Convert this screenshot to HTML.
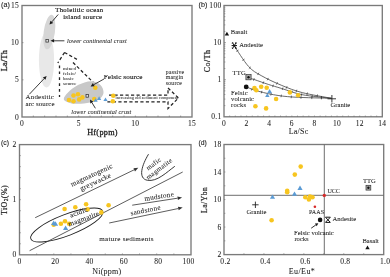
<!DOCTYPE html><html><head><meta charset="utf-8"><style>
html,body{margin:0;padding:0;background:#fff;}
svg{display:block;font-family:"Liberation Serif",serif;filter:blur(0.3px);}
</style></head><body>
<svg width="390" height="277" viewBox="0 0 390 277">
<path d="M64.5,52.5 L57.8,63 M64.5,52.5 L79,60.5 M73,62.5 L104,93 M109,95 L168,95 L168,88 L178.5,98 L168,108.5 L168,101.8 L105,101.8" fill="none" stroke="#222" stroke-width="1.25" stroke-dasharray="3.2,2.3"/>
<path d="M59.5,65.5 L59.5,97" fill="none" stroke="#222" stroke-width="1.3" stroke-dasharray="2.7,3.2"/>
<ellipse cx="46.5" cy="60" rx="7.6" ry="27.5" fill="#e8e8e8"/>
<ellipse cx="49.3" cy="32" rx="5.6" ry="17.5" fill="#d6d6d6" transform="rotate(8 49.3 32)"/>
<path d="M63.80,99.30 C64.13,101.05 67.63,102.25 70.00,103.00 C72.37,103.75 74.67,103.88 78.00,103.80 C81.33,103.72 86.50,103.22 90.00,102.50 C93.50,101.78 96.75,101.08 99.00,99.50 C101.25,97.92 103.25,95.42 103.50,93.00 C103.75,90.58 102.58,86.97 100.50,85.00 C98.42,83.03 94.75,81.20 91.00,81.20 C87.25,81.20 81.83,83.12 78.00,85.00 C74.17,86.88 70.37,90.12 68.00,92.50 C65.63,94.88 63.47,97.55 63.80,99.30Z" fill="#c8c8c8"/>
<rect x="22" y="5.5" width="170" height="111.5" fill="none" stroke="#7a7a7a" stroke-width="1.35"/>
<line x1="33.333333333333336" y1="117" x2="33.333333333333336" y2="115.5" stroke="#6f6f6f" stroke-width="0.6" />
<line x1="44.66666666666667" y1="117" x2="44.66666666666667" y2="115.5" stroke="#6f6f6f" stroke-width="0.6" />
<line x1="56.0" y1="117" x2="56.0" y2="115.5" stroke="#6f6f6f" stroke-width="0.6" />
<line x1="67.33333333333334" y1="117" x2="67.33333333333334" y2="115.5" stroke="#6f6f6f" stroke-width="0.6" />
<line x1="78.66666666666666" y1="117" x2="78.66666666666666" y2="115.5" stroke="#6f6f6f" stroke-width="0.6" />
<line x1="90.0" y1="117" x2="90.0" y2="115.5" stroke="#6f6f6f" stroke-width="0.6" />
<line x1="101.33333333333333" y1="117" x2="101.33333333333333" y2="115.5" stroke="#6f6f6f" stroke-width="0.6" />
<line x1="112.66666666666667" y1="117" x2="112.66666666666667" y2="115.5" stroke="#6f6f6f" stroke-width="0.6" />
<line x1="124.0" y1="117" x2="124.0" y2="115.5" stroke="#6f6f6f" stroke-width="0.6" />
<line x1="135.33333333333331" y1="117" x2="135.33333333333331" y2="115.5" stroke="#6f6f6f" stroke-width="0.6" />
<line x1="146.66666666666669" y1="117" x2="146.66666666666669" y2="115.5" stroke="#6f6f6f" stroke-width="0.6" />
<line x1="158.0" y1="117" x2="158.0" y2="115.5" stroke="#6f6f6f" stroke-width="0.6" />
<line x1="169.33333333333334" y1="117" x2="169.33333333333334" y2="115.5" stroke="#6f6f6f" stroke-width="0.6" />
<line x1="180.66666666666666" y1="117" x2="180.66666666666666" y2="115.5" stroke="#6f6f6f" stroke-width="0.6" />
<line x1="22" y1="79.83333333333334" x2="23.5" y2="79.83333333333334" stroke="#6f6f6f" stroke-width="0.6" />
<line x1="22" y1="42.66666666666667" x2="23.5" y2="42.66666666666667" stroke="#6f6f6f" stroke-width="0.6" />
<circle cx="73.5" cy="95.5" r="2.3" fill="#f7c51f"/>
<circle cx="78" cy="94.2" r="2.3" fill="#f7c51f"/>
<circle cx="79.2" cy="99.4" r="2.3" fill="#f7c51f"/>
<circle cx="82.4" cy="97.4" r="2.3" fill="#f7c51f"/>
<circle cx="69" cy="100" r="2.3" fill="#f7c51f"/>
<circle cx="73.5" cy="101.3" r="2.3" fill="#f7c51f"/>
<circle cx="95.3" cy="87.8" r="2.3" fill="#f7c51f"/>
<circle cx="94.3" cy="99.1" r="2.3" fill="#f7c51f"/>
<circle cx="113.3" cy="95.8" r="2.3" fill="#f7c51f"/>
<circle cx="112.8" cy="101.3" r="2.3" fill="#f7c51f"/>
<path d="M93.50,101.78L95.60,98.22L97.70,101.78Z" fill="#5b9bd5"/>
<path d="M97.00,99.88L99.10,96.31L101.20,99.88Z" fill="#5b9bd5"/>
<path d="M103.40,101.08L105.50,97.52L107.60,101.08Z" fill="#5b9bd5"/>
<rect x="45.9" y="39.5" width="2.6" height="2.6" fill="#ddd" stroke="#333" stroke-width="0.75"/>
<rect x="86" y="94.6" width="2.6" height="2.6" fill="#ddd" stroke="#333" stroke-width="0.75"/>
<line x1="58.2" y1="14.5" x2="51.84951401241648" y2="21.872403272941796" stroke="#1a1a1a" stroke-width="0.85" />
<path d="M49.50,24.60L50.49,20.70L53.21,23.05Z" fill="#1a1a1a"/>
<line x1="64.4" y1="40.8" x2="54.1" y2="40.8" stroke="#1a1a1a" stroke-width="0.85" />
<path d="M50.50,40.80L54.10,39.00L54.10,42.60Z" fill="#1a1a1a"/>
<line x1="29.3" y1="94.3" x2="44.126896266554496" y2="78.61605770647704" stroke="#1a1a1a" stroke-width="0.85" />
<path d="M46.60,76.00L45.43,79.85L42.82,77.38Z" fill="#1a1a1a"/>
<line x1="104" y1="79" x2="93.75139339030274" y2="84.659678276997" stroke="#1a1a1a" stroke-width="0.85" />
<path d="M90.60,86.40L92.88,83.08L94.62,86.24Z" fill="#1a1a1a"/>
<line x1="95.4" y1="108.3" x2="91.88285839146933" y2="102.56836182313519" stroke="#1a1a1a" stroke-width="0.85" />
<path d="M90.00,99.50L93.42,101.63L90.35,103.51Z" fill="#1a1a1a"/>
<text x="55.3" y="11.8" font-size="6.7" text-anchor="start" font-weight="normal" font-style="normal" fill="#222" stroke="#222" stroke-width="0.18" letter-spacing="0.3">Tholeiitic ocean</text>
<text x="63.2" y="18.8" font-size="6.7" text-anchor="start" font-weight="normal" font-style="normal" fill="#222" stroke="#222" stroke-width="0.18" letter-spacing="0.3">island source</text>
<text x="67" y="43.2" font-size="6.2" text-anchor="start" font-weight="normal" font-style="italic" fill="#222" stroke="#222" stroke-width="0.06" letter-spacing="0.1">lower continental crust</text>
<text x="25.5" y="98.8" font-size="6.9" text-anchor="start" font-weight="normal" font-style="normal" fill="#222" stroke="#222" stroke-width="0.06" letter-spacing="0.25">Andesitic</text>
<text x="25.5" y="106" font-size="6.9" text-anchor="start" font-weight="normal" font-style="normal" fill="#222" stroke="#222" stroke-width="0.06" letter-spacing="0.1">arc source</text>
<text x="103.8" y="79.3" font-size="7.1" text-anchor="start" font-weight="normal" font-style="normal" fill="#222" stroke="#222" stroke-width="0.15" letter-spacing="0.12">Felsic source</text>
<text x="63" y="70.2" font-size="4.9" text-anchor="start" font-weight="normal" font-style="normal" fill="#222" stroke="#222" stroke-width="0.06" letter-spacing="0.15">mixed</text>
<text x="63" y="75" font-size="4.9" text-anchor="start" font-weight="normal" font-style="normal" fill="#222" stroke="#222" stroke-width="0.06" letter-spacing="0.15">felsic/</text>
<text x="63" y="80.2" font-size="4.9" text-anchor="start" font-weight="normal" font-style="normal" fill="#222" stroke="#222" stroke-width="0.06" letter-spacing="0.15">basic</text>
<text x="63" y="85.3" font-size="4.9" text-anchor="start" font-weight="normal" font-style="normal" fill="#222" stroke="#222" stroke-width="0.06" letter-spacing="0.15">source</text>
<text x="165.8" y="74" font-size="5.7" text-anchor="start" font-weight="normal" font-style="normal" fill="#222" stroke="#222" stroke-width="0.06" letter-spacing="0.25">passive</text>
<text x="165.8" y="79.3" font-size="5.7" text-anchor="start" font-weight="normal" font-style="normal" fill="#222" stroke="#222" stroke-width="0.06" letter-spacing="0.25">margin</text>
<text x="165.8" y="84.6" font-size="5.7" text-anchor="start" font-weight="normal" font-style="normal" fill="#222" stroke="#222" stroke-width="0.06" letter-spacing="0.25">source</text>
<text x="115.5" y="99.4" font-size="4.1" text-anchor="start" font-weight="normal" font-style="normal" fill="#222" stroke="#222" stroke-width="0.06" letter-spacing="0.15">increasing old sediment component</text>
<text x="71.3" y="114.3" font-size="6.2" text-anchor="start" font-weight="normal" font-style="italic" fill="#222" stroke="#222" stroke-width="0.06" letter-spacing="0.12">lower continental crust</text>
<text x="19" y="119.5" font-size="7.5" text-anchor="end" font-weight="normal" font-style="normal" fill="#222" stroke="#222" stroke-width="0.06" letter-spacing="0.3">0</text>
<text x="22.0" y="125.5" font-size="7.5" text-anchor="middle" font-weight="normal" font-style="normal" fill="#222" stroke="#222" stroke-width="0.06" letter-spacing="0.3">0</text>
<text x="19" y="82.33333333333334" font-size="7.5" text-anchor="end" font-weight="normal" font-style="normal" fill="#222" stroke="#222" stroke-width="0.06" letter-spacing="0.3">5</text>
<text x="78.66666666666666" y="125.5" font-size="7.5" text-anchor="middle" font-weight="normal" font-style="normal" fill="#222" stroke="#222" stroke-width="0.06" letter-spacing="0.3">5</text>
<text x="19" y="45.16666666666667" font-size="7.5" text-anchor="end" font-weight="normal" font-style="normal" fill="#222" stroke="#222" stroke-width="0.06" letter-spacing="0.3">10</text>
<text x="135.33333333333331" y="125.5" font-size="7.5" text-anchor="middle" font-weight="normal" font-style="normal" fill="#222" stroke="#222" stroke-width="0.06" letter-spacing="0.3">10</text>
<text x="19" y="8.0" font-size="7.5" text-anchor="end" font-weight="normal" font-style="normal" fill="#222" stroke="#222" stroke-width="0.06" letter-spacing="0.3">15</text>
<text x="192.0" y="125.5" font-size="7.5" text-anchor="middle" font-weight="normal" font-style="normal" fill="#222" stroke="#222" stroke-width="0.06" letter-spacing="0.3">15</text>
<text x="1" y="6.6" font-size="7.2" text-anchor="start" font-weight="normal" font-style="normal" fill="#222" stroke="#222" stroke-width="0.1" font-family="Liberation Sans">(a)</text>
<text x="102.5" y="134.5" font-size="8.2" text-anchor="middle" font-weight="normal" font-style="normal" fill="#222" stroke="#222" stroke-width="0.3" letter-spacing="0.3">Hf(ppm)</text>
<text transform="translate(6.9,60.6) rotate(-90)" font-size="8.2" text-anchor="middle" fill="#222" stroke="#222" stroke-width="0.3" letter-spacing="0.3">La/Th</text>
<rect x="224" y="5.5" width="158.3" height="111.3" fill="none" stroke="#7a7a7a" stroke-width="1.35"/>
<line x1="229.65357142857144" y1="116.8" x2="229.65357142857144" y2="115.5" stroke="#6f6f6f" stroke-width="0.6" />
<line x1="235.30714285714285" y1="116.8" x2="235.30714285714285" y2="115.5" stroke="#6f6f6f" stroke-width="0.6" />
<line x1="240.9607142857143" y1="116.8" x2="240.9607142857143" y2="115.5" stroke="#6f6f6f" stroke-width="0.6" />
<line x1="246.61428571428573" y1="116.8" x2="246.61428571428573" y2="115.5" stroke="#6f6f6f" stroke-width="0.6" />
<line x1="252.26785714285714" y1="116.8" x2="252.26785714285714" y2="115.5" stroke="#6f6f6f" stroke-width="0.6" />
<line x1="257.9214285714286" y1="116.8" x2="257.9214285714286" y2="115.5" stroke="#6f6f6f" stroke-width="0.6" />
<line x1="263.575" y1="116.8" x2="263.575" y2="115.5" stroke="#6f6f6f" stroke-width="0.6" />
<line x1="269.22857142857146" y1="116.8" x2="269.22857142857146" y2="115.5" stroke="#6f6f6f" stroke-width="0.6" />
<line x1="274.88214285714287" y1="116.8" x2="274.88214285714287" y2="115.5" stroke="#6f6f6f" stroke-width="0.6" />
<line x1="280.5357142857143" y1="116.8" x2="280.5357142857143" y2="115.5" stroke="#6f6f6f" stroke-width="0.6" />
<line x1="286.18928571428575" y1="116.8" x2="286.18928571428575" y2="115.5" stroke="#6f6f6f" stroke-width="0.6" />
<line x1="291.84285714285716" y1="116.8" x2="291.84285714285716" y2="115.5" stroke="#6f6f6f" stroke-width="0.6" />
<line x1="297.49642857142857" y1="116.8" x2="297.49642857142857" y2="115.5" stroke="#6f6f6f" stroke-width="0.6" />
<line x1="303.15" y1="116.8" x2="303.15" y2="115.5" stroke="#6f6f6f" stroke-width="0.6" />
<line x1="308.80357142857144" y1="116.8" x2="308.80357142857144" y2="115.5" stroke="#6f6f6f" stroke-width="0.6" />
<line x1="314.45714285714286" y1="116.8" x2="314.45714285714286" y2="115.5" stroke="#6f6f6f" stroke-width="0.6" />
<line x1="320.11071428571427" y1="116.8" x2="320.11071428571427" y2="115.5" stroke="#6f6f6f" stroke-width="0.6" />
<line x1="325.76428571428573" y1="116.8" x2="325.76428571428573" y2="115.5" stroke="#6f6f6f" stroke-width="0.6" />
<line x1="331.41785714285714" y1="116.8" x2="331.41785714285714" y2="115.5" stroke="#6f6f6f" stroke-width="0.6" />
<line x1="337.07142857142856" y1="116.8" x2="337.07142857142856" y2="115.5" stroke="#6f6f6f" stroke-width="0.6" />
<line x1="342.725" y1="116.8" x2="342.725" y2="115.5" stroke="#6f6f6f" stroke-width="0.6" />
<line x1="348.37857142857143" y1="116.8" x2="348.37857142857143" y2="115.5" stroke="#6f6f6f" stroke-width="0.6" />
<line x1="354.03214285714284" y1="116.8" x2="354.03214285714284" y2="115.5" stroke="#6f6f6f" stroke-width="0.6" />
<line x1="359.6857142857143" y1="116.8" x2="359.6857142857143" y2="115.5" stroke="#6f6f6f" stroke-width="0.6" />
<line x1="365.3392857142857" y1="116.8" x2="365.3392857142857" y2="115.5" stroke="#6f6f6f" stroke-width="0.6" />
<line x1="370.99285714285713" y1="116.8" x2="370.99285714285713" y2="115.5" stroke="#6f6f6f" stroke-width="0.6" />
<line x1="376.6464285714286" y1="116.8" x2="376.6464285714286" y2="115.5" stroke="#6f6f6f" stroke-width="0.6" />
<line x1="224" y1="105.6317871608663" x2="225.4" y2="105.6317871608663" stroke="#6f6f6f" stroke-width="0.6" />
<line x1="224" y1="99.09880144990052" x2="225.4" y2="99.09880144990052" stroke="#6f6f6f" stroke-width="0.6" />
<line x1="224" y1="94.4635743217326" x2="225.4" y2="94.4635743217326" stroke="#6f6f6f" stroke-width="0.6" />
<line x1="224" y1="90.8682128391337" x2="225.4" y2="90.8682128391337" stroke="#6f6f6f" stroke-width="0.6" />
<line x1="224" y1="87.93058861076682" x2="225.4" y2="87.93058861076682" stroke="#6f6f6f" stroke-width="0.6" />
<line x1="224" y1="85.44686271547107" x2="225.4" y2="85.44686271547107" stroke="#6f6f6f" stroke-width="0.6" />
<line x1="224" y1="83.29536148259888" x2="225.4" y2="83.29536148259888" stroke="#6f6f6f" stroke-width="0.6" />
<line x1="224" y1="81.39760289980104" x2="225.4" y2="81.39760289980104" stroke="#6f6f6f" stroke-width="0.6" />
<line x1="224" y1="68.53178716086629" x2="225.4" y2="68.53178716086629" stroke="#6f6f6f" stroke-width="0.6" />
<line x1="224" y1="61.99880144990052" x2="225.4" y2="61.99880144990052" stroke="#6f6f6f" stroke-width="0.6" />
<line x1="224" y1="57.36357432173259" x2="225.4" y2="57.36357432173259" stroke="#6f6f6f" stroke-width="0.6" />
<line x1="224" y1="53.7682128391337" x2="225.4" y2="53.7682128391337" stroke="#6f6f6f" stroke-width="0.6" />
<line x1="224" y1="50.830588610766824" x2="225.4" y2="50.830588610766824" stroke="#6f6f6f" stroke-width="0.6" />
<line x1="224" y1="48.346862715471076" x2="225.4" y2="48.346862715471076" stroke="#6f6f6f" stroke-width="0.6" />
<line x1="224" y1="46.1953614825989" x2="225.4" y2="46.1953614825989" stroke="#6f6f6f" stroke-width="0.6" />
<line x1="224" y1="44.29760289980105" x2="225.4" y2="44.29760289980105" stroke="#6f6f6f" stroke-width="0.6" />
<line x1="224" y1="79.69999999999999" x2="226" y2="79.69999999999999" stroke="#6f6f6f" stroke-width="0.6" />
<line x1="224" y1="31.431787160866293" x2="225.4" y2="31.431787160866293" stroke="#6f6f6f" stroke-width="0.6" />
<line x1="224" y1="24.898801449900517" x2="225.4" y2="24.898801449900517" stroke="#6f6f6f" stroke-width="0.6" />
<line x1="224" y1="20.26357432173259" x2="225.4" y2="20.26357432173259" stroke="#6f6f6f" stroke-width="0.6" />
<line x1="224" y1="16.6682128391337" x2="225.4" y2="16.6682128391337" stroke="#6f6f6f" stroke-width="0.6" />
<line x1="224" y1="13.730588610766802" x2="225.4" y2="13.730588610766802" stroke="#6f6f6f" stroke-width="0.6" />
<line x1="224" y1="11.246862715471067" x2="225.4" y2="11.246862715471067" stroke="#6f6f6f" stroke-width="0.6" />
<line x1="224" y1="9.09536148259889" x2="225.4" y2="9.09536148259889" stroke="#6f6f6f" stroke-width="0.6" />
<line x1="224" y1="7.197602899801041" x2="225.4" y2="7.197602899801041" stroke="#6f6f6f" stroke-width="0.6" />
<line x1="224" y1="42.599999999999994" x2="226" y2="42.599999999999994" stroke="#6f6f6f" stroke-width="0.6" />
<path d="M234.10,45.70 C236.50,49.15 243.98,61.42 248.50,66.40 C253.02,71.38 255.67,72.43 261.20,75.60 C266.73,78.77 274.87,82.57 281.70,85.40 C288.53,88.23 293.90,90.45 302.20,92.60 C310.50,94.75 326.62,97.35 331.50,98.30" fill="none" stroke="#444" stroke-width="0.8"/>
<path d="M249.00,78.00 C250.00,78.30 251.78,78.73 255.00,79.80 C258.22,80.87 263.85,82.95 268.30,84.40 C272.75,85.85 276.05,86.78 281.70,88.50 C287.35,90.22 293.90,93.07 302.20,94.70 C310.50,96.33 326.62,97.70 331.50,98.30" fill="none" stroke="#444" stroke-width="0.8"/>
<path d="M246.20,86.70 C247.67,87.30 250.45,88.97 255.00,90.30 C259.55,91.63 267.00,93.57 273.50,94.70 C280.00,95.83 284.33,96.50 294.00,97.10 C303.67,97.70 325.25,98.10 331.50,98.30" fill="none" stroke="#444" stroke-width="0.8"/>
<line x1="238.50617084764409" y1="50.043924119801915" x2="236.32412915235577" y2="51.45767588019808" stroke="#333" stroke-width="0.7" />
<line x1="244.50023487278858" y1="59.044404037883936" x2="242.36482293971144" y2="60.527649087116075" stroke="#333" stroke-width="0.7" />
<line x1="250.7352448200336" y1="66.87623281872776" x2="248.8722551799664" y2="68.68986718127225" stroke="#333" stroke-width="0.7" />
<line x1="258.82469216644216" y1="72.77218785731263" x2="257.5513078335578" y2="75.03901214268735" stroke="#333" stroke-width="0.7" />
<line x1="268.37828920760813" y1="77.92570768549892" x2="267.2182857923918" y2="80.25259231450106" stroke="#333" stroke-width="0.7" />
<line x1="277.460893174647" y1="82.17025972451036" x2="276.4080787003529" y2="84.54756527548965" stroke="#333" stroke-width="0.7" />
<line x1="287.1043951962971" y1="86.212087850693" x2="286.13310480370285" y2="88.62384964930703" stroke="#333" stroke-width="0.7" />
<line x1="296.8465032574308" y1="89.72636496235485" x2="296.0659967425691" y2="92.20644753764513" stroke="#333" stroke-width="0.7" />
<line x1="307.4489730314031" y1="92.48834791802086" x2="306.8981472810969" y2="95.02933020697911" stroke="#333" stroke-width="0.7" />
<line x1="317.51303751348746" y1="94.46493100368023" x2="317.0405265490126" y2="97.02163462131976" stroke="#333" stroke-width="0.7" />
<line x1="254.25382877754066" y1="78.18990616804943" x2="253.46550715995932" y2="80.66751570695057" stroke="#333" stroke-width="0.7" />
<line x1="263.77645928511856" y1="81.48848794364204" x2="262.9174907148814" y2="83.94249955635797" stroke="#333" stroke-width="0.7" />
<line x1="273.3857600979426" y1="84.63864367407459" x2="272.6255680270574" y2="87.12502820092541" stroke="#333" stroke-width="0.7" />
<line x1="282.94431267489045" y1="87.52557158526126" x2="282.16439982510957" y2="90.00584091473873" stroke="#333" stroke-width="0.7" />
<line x1="292.3866181816001" y1="90.73502682331241" x2="291.5747193183998" y2="93.20501067668758" stroke="#333" stroke-width="0.7" />
<line x1="301.84875430776606" y1="93.30317712128048" x2="301.312781629734" y2="95.84733381621952" stroke="#333" stroke-width="0.7" />
<line x1="312.2769589632769" y1="94.90090701649098" x2="311.9539519742232" y2="97.4807648585091" stroke="#333" stroke-width="0.7" />
<line x1="321.60319022096144" y1="95.95113238891106" x2="321.33120977903866" y2="98.53686761108897" stroke="#333" stroke-width="0.7" />
<line x1="252.38029558455545" y1="88.04675974769697" x2="251.4431419154445" y2="90.47199025230304" stroke="#333" stroke-width="0.7" />
<line x1="261.92722889690566" y1="90.83881480928233" x2="261.2839711030943" y2="93.35798519071764" stroke="#333" stroke-width="0.7" />
<line x1="271.27844798950474" y1="92.96508286008121" x2="270.7725285729952" y2="95.51538588991879" stroke="#333" stroke-width="0.7" />
<line x1="281.36476906799305" y1="94.63474415299993" x2="281.0135903070069" y2="97.21091834700007" stroke="#333" stroke-width="0.7" />
<line x1="291.3464038215389" y1="95.62099594621164" x2="291.1585961784611" y2="98.21420405378835" stroke="#333" stroke-width="0.7" />
<line x1="301.06375769589766" y1="96.13703073904142" x2="300.96024230410245" y2="98.73496926095865" stroke="#333" stroke-width="0.7" />
<line x1="311.8433426895555" y1="96.48903017999191" x2="311.76909481044464" y2="99.08796982000811" stroke="#333" stroke-width="0.7" />
<line x1="321.5152035501988" y1="96.74202538701611" x2="321.4506792623012" y2="99.34122461298385" stroke="#333" stroke-width="0.7" />
<circle cx="254.5" cy="88.1" r="2.3" fill="#f7c51f"/>
<circle cx="256.3" cy="90.3" r="2.3" fill="#f7c51f"/>
<circle cx="261.2" cy="86.7" r="2.3" fill="#f7c51f"/>
<circle cx="266.7" cy="87.7" r="2.3" fill="#f7c51f"/>
<circle cx="276.1" cy="99" r="2.3" fill="#f7c51f"/>
<circle cx="255.4" cy="106.2" r="2.3" fill="#f7c51f"/>
<circle cx="266.1" cy="108.4" r="2.3" fill="#f7c51f"/>
<circle cx="289.9" cy="92.4" r="2.3" fill="#f7c51f"/>
<circle cx="298.1" cy="95.3" r="2.3" fill="#f7c51f"/>
<path d="M267.10,93.33L269.60,89.08L272.10,93.33Z" fill="#5b9bd5"/>
<path d="M265.10,97.07L267.30,93.33L269.50,97.07Z" fill="#5b9bd5"/>
<path d="M224.70,35.47L226.90,31.73L229.10,35.47Z" fill="#111"/>
<path d="M232.6,42.8 L236,48.4 M236,42.8 L232.6,48.4 M231.6,45.6 L237,45.6 M231.8,43.2 L233.2,42.6 M235.4,42.6 L236.8,43.2 M231.8,48 L233.2,48.6 M235.4,48.6 L236.8,48" stroke="#111" stroke-width="1"/>
<rect x="245.9" y="74.6" width="5.2" height="5.2" fill="#aaa" stroke="#333" stroke-width="0.7"/>
<circle cx="248.5" cy="77.2" r="1.2" fill="#111"/>
<circle cx="246.2" cy="86.9" r="2.4" fill="#111"/>
<path d="M327.5,98.8 L336,98.8 M331.9,95 L331.9,102.5" stroke="#222" stroke-width="0.9"/>
<text x="230.8" y="33.5" font-size="6.6" text-anchor="start" font-weight="normal" font-style="normal" fill="#222" stroke="#222" stroke-width="0.06" >Basalt</text>
<text x="239.2" y="47.3" font-size="6.7" text-anchor="start" font-weight="normal" font-style="normal" fill="#222" stroke="#222" stroke-width="0.06" >Andesite</text>
<text x="232.6" y="75" font-size="6.6" text-anchor="start" font-weight="normal" font-style="normal" fill="#222" stroke="#222" stroke-width="0.06" letter-spacing="0.2">TTG</text>
<text x="231" y="95" font-size="6.6" text-anchor="start" font-weight="normal" font-style="normal" fill="#222" stroke="#222" stroke-width="0.06" letter-spacing="0.2">Felsic</text>
<text x="231" y="101.3" font-size="6.6" text-anchor="start" font-weight="normal" font-style="normal" fill="#222" stroke="#222" stroke-width="0.06" letter-spacing="0.1">volcanic</text>
<text x="231" y="107.3" font-size="6.6" text-anchor="start" font-weight="normal" font-style="normal" fill="#222" stroke="#222" stroke-width="0.06" letter-spacing="0.2">rocks</text>
<text x="330.5" y="106.5" font-size="6.6" text-anchor="start" font-weight="normal" font-style="normal" fill="#222" stroke="#222" stroke-width="0.06" >Granite</text>
<text x="221.5" y="119.3" font-size="7.5" text-anchor="end" font-weight="normal" font-style="normal" fill="#222" stroke="#222" stroke-width="0.06" letter-spacing="0.3">0.1</text>
<text x="221.5" y="82.19999999999999" font-size="7.5" text-anchor="end" font-weight="normal" font-style="normal" fill="#222" stroke="#222" stroke-width="0.06" letter-spacing="0.3">1</text>
<text x="221.5" y="45.099999999999994" font-size="7.5" text-anchor="end" font-weight="normal" font-style="normal" fill="#222" stroke="#222" stroke-width="0.06" letter-spacing="0.3">10</text>
<text x="221.5" y="8.0" font-size="7.5" text-anchor="end" font-weight="normal" font-style="normal" fill="#222" stroke="#222" stroke-width="0.06" letter-spacing="0.3">100</text>
<text x="224.0" y="125.5" font-size="7.5" text-anchor="middle" font-weight="normal" font-style="normal" fill="#222" stroke="#222" stroke-width="0.06" letter-spacing="0.3">0</text>
<text x="246.61428571428573" y="125.5" font-size="7.5" text-anchor="middle" font-weight="normal" font-style="normal" fill="#222" stroke="#222" stroke-width="0.06" letter-spacing="0.3">2</text>
<text x="269.22857142857146" y="125.5" font-size="7.5" text-anchor="middle" font-weight="normal" font-style="normal" fill="#222" stroke="#222" stroke-width="0.06" letter-spacing="0.3">4</text>
<text x="291.84285714285716" y="125.5" font-size="7.5" text-anchor="middle" font-weight="normal" font-style="normal" fill="#222" stroke="#222" stroke-width="0.06" letter-spacing="0.3">6</text>
<text x="314.45714285714286" y="125.5" font-size="7.5" text-anchor="middle" font-weight="normal" font-style="normal" fill="#222" stroke="#222" stroke-width="0.06" letter-spacing="0.3">8</text>
<text x="337.07142857142856" y="125.5" font-size="7.5" text-anchor="middle" font-weight="normal" font-style="normal" fill="#222" stroke="#222" stroke-width="0.06" letter-spacing="0.3">10</text>
<text x="359.6857142857143" y="125.5" font-size="7.5" text-anchor="middle" font-weight="normal" font-style="normal" fill="#222" stroke="#222" stroke-width="0.06" letter-spacing="0.3">12</text>
<text x="382.3" y="125.5" font-size="7.5" text-anchor="middle" font-weight="normal" font-style="normal" fill="#222" stroke="#222" stroke-width="0.06" letter-spacing="0.3">14</text>
<text x="198.5" y="6.6" font-size="7.2" text-anchor="start" font-weight="normal" font-style="normal" fill="#222" stroke="#222" stroke-width="0.1" font-family="Liberation Sans">(b)</text>
<text x="298.6" y="134.3" font-size="8" text-anchor="middle" font-weight="normal" font-style="normal" fill="#222" stroke="#222" stroke-width="0.06" letter-spacing="0.25">La/Sc</text>
<text transform="translate(210,60.9) rotate(-90)" font-size="8" letter-spacing="0.5" text-anchor="middle" fill="#222" stroke="#222" stroke-width="0.2">Co/Th</text>
<rect x="19.5" y="144.6" width="171.5" height="110.20000000000002" fill="none" stroke="#7a7a7a" stroke-width="1.35"/>
<line x1="36.65" y1="254.8" x2="36.65" y2="253.4" stroke="#6f6f6f" stroke-width="0.6" />
<line x1="53.8" y1="254.8" x2="53.8" y2="253.4" stroke="#6f6f6f" stroke-width="0.6" />
<line x1="70.95" y1="254.8" x2="70.95" y2="253.4" stroke="#6f6f6f" stroke-width="0.6" />
<line x1="88.1" y1="254.8" x2="88.1" y2="253.4" stroke="#6f6f6f" stroke-width="0.6" />
<line x1="105.25" y1="254.8" x2="105.25" y2="253.4" stroke="#6f6f6f" stroke-width="0.6" />
<line x1="122.4" y1="254.8" x2="122.4" y2="253.4" stroke="#6f6f6f" stroke-width="0.6" />
<line x1="139.55" y1="254.8" x2="139.55" y2="253.4" stroke="#6f6f6f" stroke-width="0.6" />
<line x1="156.7" y1="254.8" x2="156.7" y2="253.4" stroke="#6f6f6f" stroke-width="0.6" />
<line x1="173.85" y1="254.8" x2="173.85" y2="253.4" stroke="#6f6f6f" stroke-width="0.6" />
<line x1="19.5" y1="243.78" x2="20.9" y2="243.78" stroke="#6f6f6f" stroke-width="0.6" />
<line x1="19.5" y1="232.76000000000002" x2="20.9" y2="232.76000000000002" stroke="#6f6f6f" stroke-width="0.6" />
<line x1="19.5" y1="221.74" x2="20.9" y2="221.74" stroke="#6f6f6f" stroke-width="0.6" />
<line x1="19.5" y1="210.72" x2="20.9" y2="210.72" stroke="#6f6f6f" stroke-width="0.6" />
<line x1="19.5" y1="199.7" x2="20.9" y2="199.7" stroke="#6f6f6f" stroke-width="0.6" />
<line x1="19.5" y1="188.68" x2="20.9" y2="188.68" stroke="#6f6f6f" stroke-width="0.6" />
<line x1="19.5" y1="177.66" x2="20.9" y2="177.66" stroke="#6f6f6f" stroke-width="0.6" />
<line x1="19.5" y1="166.64" x2="20.9" y2="166.64" stroke="#6f6f6f" stroke-width="0.6" />
<line x1="19.5" y1="155.62" x2="20.9" y2="155.62" stroke="#6f6f6f" stroke-width="0.6" />
<ellipse cx="66.8" cy="225" rx="38.5" ry="10.5" fill="none" stroke="#222" stroke-width="0.9" transform="rotate(-21 66.8 225)"/>
<line x1="35.2" y1="217.7" x2="134.2494821446325" y2="169.76043492708865" stroke="#333" stroke-width="0.8" />
<path d="M138.30,167.80L135.03,171.38L133.47,168.14Z" fill="#333"/>
<line x1="29.6" y1="250.7" x2="182.7" y2="172" stroke="#333" stroke-width="0.8" />
<line x1="132.2" y1="205.2" x2="177.65263692021077" y2="198.1862664471819" stroke="#333" stroke-width="0.8" />
<path d="M182.10,197.50L177.93,199.97L177.38,196.41Z" fill="#333"/>
<line x1="109.2" y1="223" x2="178.29563789004345" y2="208.5228187278004" stroke="#333" stroke-width="0.8" />
<path d="M182.70,207.60L178.66,210.28L177.93,206.76Z" fill="#333"/>
<path d="M148.5,154.2 C142,165 137.5,178.5 147.5,180.3 C157,182 167,172 174.8,166.3" fill="none" stroke="#222" stroke-width="0.9"/>
<circle cx="64.6" cy="209" r="2.3" fill="#f7c51f"/>
<circle cx="75.3" cy="207.3" r="2.3" fill="#f7c51f"/>
<circle cx="86.1" cy="204.2" r="2.3" fill="#f7c51f"/>
<circle cx="87.6" cy="209.4" r="2.3" fill="#f7c51f"/>
<circle cx="101.3" cy="212.4" r="2.3" fill="#f7c51f"/>
<circle cx="60.9" cy="223.7" r="2.3" fill="#f7c51f"/>
<circle cx="65" cy="221.3" r="2.3" fill="#f7c51f"/>
<circle cx="69.1" cy="223.7" r="2.3" fill="#f7c51f"/>
<circle cx="53.7" cy="224.7" r="2.3" fill="#f7c51f"/>
<circle cx="108.6" cy="205.2" r="2.3" fill="#f7c51f"/>
<path d="M51.10,224.91L53.70,220.49L56.30,224.91Z" fill="#5b9bd5"/>
<path d="M52.90,225.71L55.50,221.29L58.10,225.71Z" fill="#5b9bd5"/>
<path d="M63.00,230.01L65.60,225.59L68.20,230.01Z" fill="#5b9bd5"/>
<text x="0" y="0" font-size="7.1" text-anchor="middle" font-weight="normal" font-style="normal" fill="#222" stroke="#222" stroke-width="0.06" transform="translate(92.5,177.2) rotate(-25)" letter-spacing="0.3">magmatogenic</text>
<text x="0" y="0" font-size="7.1" text-anchor="middle" font-weight="normal" font-style="normal" fill="#222" stroke="#222" stroke-width="0.06" transform="translate(96.5,184) rotate(-25)" letter-spacing="0.3">greywacke</text>
<text x="0" y="0" font-size="7.1" text-anchor="middle" font-weight="normal" font-style="normal" fill="#222" stroke="#222" stroke-width="0.06" transform="translate(79.5,214.5) rotate(-20)" letter-spacing="0.3">acidic</text>
<text x="0" y="0" font-size="7.1" text-anchor="middle" font-weight="normal" font-style="normal" fill="#222" stroke="#222" stroke-width="0.06" transform="translate(84.5,220.8) rotate(-20)" letter-spacing="0.3">magmatite</text>
<text x="0" y="0" font-size="6.7" text-anchor="middle" font-weight="normal" font-style="normal" fill="#222" stroke="#222" stroke-width="0.06" transform="translate(155,165.5) rotate(-37)" letter-spacing="0.3">mafic</text>
<text x="0" y="0" font-size="6.7" text-anchor="middle" font-weight="normal" font-style="normal" fill="#222" stroke="#222" stroke-width="0.06" transform="translate(160.5,170.5) rotate(-37)" letter-spacing="0.3">magmatite</text>
<text x="0" y="0" font-size="7.1" text-anchor="middle" font-weight="normal" font-style="normal" fill="#222" stroke="#222" stroke-width="0.06" transform="translate(159.5,198.6) rotate(-9)" letter-spacing="0.3">mudstone</text>
<text x="0" y="0" font-size="7.1" text-anchor="middle" font-weight="normal" font-style="normal" fill="#222" stroke="#222" stroke-width="0.06" transform="translate(146,212.5) rotate(-11)" letter-spacing="0.3">sandstone</text>
<text x="126.5" y="241.2" font-size="7.1" text-anchor="middle" font-weight="normal" font-style="normal" fill="#222" stroke="#222" stroke-width="0.06" letter-spacing="0.3">mature sediments</text>
<text x="16.5" y="257.3" font-size="7.5" text-anchor="end" font-weight="normal" font-style="normal" fill="#222" stroke="#222" stroke-width="0.06" letter-spacing="0.3">0</text>
<text x="16.5" y="202.2" font-size="7.5" text-anchor="end" font-weight="normal" font-style="normal" fill="#222" stroke="#222" stroke-width="0.06" letter-spacing="0.3">1</text>
<text x="16.5" y="147.1" font-size="7.5" text-anchor="end" font-weight="normal" font-style="normal" fill="#222" stroke="#222" stroke-width="0.06" letter-spacing="0.3">2</text>
<text x="19.5" y="263.5" font-size="7.5" text-anchor="middle" font-weight="normal" font-style="normal" fill="#222" stroke="#222" stroke-width="0.06" letter-spacing="0.3">0</text>
<text x="55.3" y="263.5" font-size="7.5" text-anchor="middle" font-weight="normal" font-style="normal" fill="#222" stroke="#222" stroke-width="0.06" letter-spacing="0.3">20</text>
<text x="89.6" y="263.5" font-size="7.5" text-anchor="middle" font-weight="normal" font-style="normal" fill="#222" stroke="#222" stroke-width="0.06" letter-spacing="0.3">40</text>
<text x="123.9" y="263.5" font-size="7.5" text-anchor="middle" font-weight="normal" font-style="normal" fill="#222" stroke="#222" stroke-width="0.06" letter-spacing="0.3">60</text>
<text x="158.2" y="263.5" font-size="7.5" text-anchor="middle" font-weight="normal" font-style="normal" fill="#222" stroke="#222" stroke-width="0.06" letter-spacing="0.3">80</text>
<text x="188.5" y="263.5" font-size="7.5" text-anchor="middle" font-weight="normal" font-style="normal" fill="#222" stroke="#222" stroke-width="0.06" letter-spacing="0.3">100</text>
<text x="1" y="144.6" font-size="6.8" text-anchor="start" font-weight="normal" font-style="normal" fill="#222" stroke="#222" stroke-width="0.1" font-family="Liberation Sans">(c)</text>
<text x="106.8" y="274.3" font-size="8" text-anchor="middle" font-weight="normal" font-style="normal" fill="#222" stroke="#222" stroke-width="0.06" letter-spacing="0.25">Ni(ppm)</text>
<text transform="translate(6.7,200) rotate(-90)" font-size="8" letter-spacing="0.4" text-anchor="middle" fill="#222" stroke="#222" stroke-width="0.2">TiO<tspan font-size="5.5" dy="1.5">2</tspan><tspan dy="-1.5">(%)</tspan></text>
<rect x="224" y="144.5" width="159.7" height="110.1" fill="none" stroke="#7a7a7a" stroke-width="1.35"/>
<line x1="243.9625" y1="254.6" x2="243.9625" y2="253.2" stroke="#6f6f6f" stroke-width="0.6" />
<line x1="263.925" y1="254.6" x2="263.925" y2="253.2" stroke="#6f6f6f" stroke-width="0.6" />
<line x1="283.8875" y1="254.6" x2="283.8875" y2="253.2" stroke="#6f6f6f" stroke-width="0.6" />
<line x1="303.85" y1="254.6" x2="303.85" y2="253.2" stroke="#6f6f6f" stroke-width="0.6" />
<line x1="323.8125" y1="254.6" x2="323.8125" y2="253.2" stroke="#6f6f6f" stroke-width="0.6" />
<line x1="343.775" y1="254.6" x2="343.775" y2="253.2" stroke="#6f6f6f" stroke-width="0.6" />
<line x1="363.73749999999995" y1="254.6" x2="363.73749999999995" y2="253.2" stroke="#6f6f6f" stroke-width="0.6" />
<line x1="224" y1="240.8375" x2="225.4" y2="240.8375" stroke="#6f6f6f" stroke-width="0.6" />
<line x1="224" y1="227.075" x2="225.4" y2="227.075" stroke="#6f6f6f" stroke-width="0.6" />
<line x1="224" y1="213.3125" x2="225.4" y2="213.3125" stroke="#6f6f6f" stroke-width="0.6" />
<line x1="224" y1="199.55" x2="225.4" y2="199.55" stroke="#6f6f6f" stroke-width="0.6" />
<line x1="224" y1="185.7875" x2="225.4" y2="185.7875" stroke="#6f6f6f" stroke-width="0.6" />
<line x1="224" y1="172.025" x2="225.4" y2="172.025" stroke="#6f6f6f" stroke-width="0.6" />
<line x1="224" y1="158.2625" x2="225.4" y2="158.2625" stroke="#6f6f6f" stroke-width="0.6" />
<line x1="224" y1="195.3" x2="383.7" y2="195.3" stroke="#666" stroke-width="0.95" />
<line x1="324.3" y1="144.5" x2="324.3" y2="254.6" stroke="#666" stroke-width="0.95" />
<circle cx="300.7" cy="166.6" r="2.3" fill="#f7c51f"/>
<circle cx="294.8" cy="174.6" r="2.3" fill="#f7c51f"/>
<circle cx="287.2" cy="190.7" r="2.3" fill="#f7c51f"/>
<circle cx="287.2" cy="192.2" r="2.3" fill="#f7c51f"/>
<circle cx="305.3" cy="197.2" r="2.3" fill="#f7c51f"/>
<circle cx="308.9" cy="199.5" r="2.3" fill="#f7c51f"/>
<circle cx="312.5" cy="197.2" r="2.3" fill="#f7c51f"/>
<circle cx="310" cy="196.5" r="2.3" fill="#f7c51f"/>
<circle cx="271.6" cy="220.3" r="2.3" fill="#f7c51f"/>
<path d="M269.90,198.81L272.50,194.39L275.10,198.81Z" fill="#5b9bd5"/>
<path d="M291.90,195.81L294.50,191.39L297.10,195.81Z" fill="#5b9bd5"/>
<path d="M297.40,190.01L300.00,185.59L302.60,190.01Z" fill="#5b9bd5"/>
<circle cx="324.3" cy="195.4" r="1.7" fill="#d62a2a"/>
<circle cx="314.9" cy="206.7" r="1.3" fill="#d62a2a"/>
<circle cx="320.1" cy="219.9" r="2.3" fill="#111"/>
<path d="M325.6,217.4 L330.2,222.2 M330.2,217.4 L325.6,222.2 M325.4,217.2 L330.4,217.2 M325.4,222.4 L330.4,222.4" stroke="#111" stroke-width="1"/>
<rect x="366" y="185.3" width="4.8" height="4.8" fill="#aaa" stroke="#333" stroke-width="0.7"/>
<circle cx="368.4" cy="187.7" r="1.2" fill="#111"/>
<path d="M365.30,249.27L367.50,245.53L369.70,249.27Z" fill="#111"/>
<path d="M252.2,204.8 L258.6,204.8 M255.4,201.6 L255.4,208" stroke="#222" stroke-width="0.9"/>
<line x1="311.2" y1="228.2" x2="315.8471830818207" y2="224.92733585787278" stroke="#1a1a1a" stroke-width="0.9" />
<path d="M318.30,223.20L316.77,226.24L314.93,223.62Z" fill="#1a1a1a"/>
<text x="327.4" y="193" font-size="6.1" text-anchor="start" font-weight="normal" font-style="normal" fill="#222" stroke="#222" stroke-width="0.06" >UCC</text>
<text x="363" y="183.3" font-size="6.6" text-anchor="start" font-weight="normal" font-style="normal" fill="#222" stroke="#222" stroke-width="0.06" >TTG</text>
<text x="309" y="213.5" font-size="6.1" text-anchor="start" font-weight="normal" font-style="normal" fill="#222" stroke="#222" stroke-width="0.06" >PAAS</text>
<text x="332.4" y="221.3" font-size="6.7" text-anchor="start" font-weight="normal" font-style="normal" fill="#222" stroke="#222" stroke-width="0.06" >Andesite</text>
<text x="294" y="235.3" font-size="6.6" text-anchor="start" font-weight="normal" font-style="normal" fill="#222" stroke="#222" stroke-width="0.06" >Felsic volcanic</text>
<text x="294.4" y="241.2" font-size="6.6" text-anchor="start" font-weight="normal" font-style="normal" fill="#222" stroke="#222" stroke-width="0.06" >rocks</text>
<text x="362.4" y="242.5" font-size="6.6" text-anchor="start" font-weight="normal" font-style="normal" fill="#222" stroke="#222" stroke-width="0.06" >Basalt</text>
<text x="246.6" y="213.6" font-size="6.6" text-anchor="start" font-weight="normal" font-style="normal" fill="#222" stroke="#222" stroke-width="0.06" >Granite</text>
<text x="221.5" y="257.1" font-size="7.5" text-anchor="end" font-weight="normal" font-style="normal" fill="#222" stroke="#222" stroke-width="0.06" letter-spacing="0.3">2</text>
<text x="221.5" y="229.575" font-size="7.5" text-anchor="end" font-weight="normal" font-style="normal" fill="#222" stroke="#222" stroke-width="0.06" letter-spacing="0.3">6</text>
<text x="221.5" y="202.05" font-size="7.5" text-anchor="end" font-weight="normal" font-style="normal" fill="#222" stroke="#222" stroke-width="0.06" letter-spacing="0.3">10</text>
<text x="221.5" y="174.525" font-size="7.5" text-anchor="end" font-weight="normal" font-style="normal" fill="#222" stroke="#222" stroke-width="0.06" letter-spacing="0.3">14</text>
<text x="221.5" y="147.0" font-size="7.5" text-anchor="end" font-weight="normal" font-style="normal" fill="#222" stroke="#222" stroke-width="0.06" letter-spacing="0.3">18</text>
<text x="225.5" y="263.5" font-size="7.5" text-anchor="middle" font-weight="normal" font-style="normal" fill="#222" stroke="#222" stroke-width="0.06" letter-spacing="0.3">0.2</text>
<text x="265.425" y="263.5" font-size="7.5" text-anchor="middle" font-weight="normal" font-style="normal" fill="#222" stroke="#222" stroke-width="0.06" letter-spacing="0.3">0.4</text>
<text x="305.34999999999997" y="263.5" font-size="7.5" text-anchor="middle" font-weight="normal" font-style="normal" fill="#222" stroke="#222" stroke-width="0.06" letter-spacing="0.3">0.6</text>
<text x="345.275" y="263.5" font-size="7.5" text-anchor="middle" font-weight="normal" font-style="normal" fill="#222" stroke="#222" stroke-width="0.06" letter-spacing="0.3">0.8</text>
<text x="385.2" y="263.5" font-size="7.5" text-anchor="middle" font-weight="normal" font-style="normal" fill="#222" stroke="#222" stroke-width="0.06" letter-spacing="0.3">1.0</text>
<text x="198.5" y="144.6" font-size="6.8" text-anchor="start" font-weight="normal" font-style="normal" fill="#222" stroke="#222" stroke-width="0.1" font-family="Liberation Sans">(d)</text>
<text x="302" y="274.2" font-size="8" text-anchor="middle" font-weight="normal" font-style="normal" fill="#222" stroke="#222" stroke-width="0.06" letter-spacing="0.4">Eu/Eu*</text>
<text transform="translate(206.9,199.8) rotate(-90)" font-size="7.6" letter-spacing="0.5" text-anchor="middle" fill="#222" stroke="#222" stroke-width="0.2">La/Ybn</text>
</svg></body></html>
